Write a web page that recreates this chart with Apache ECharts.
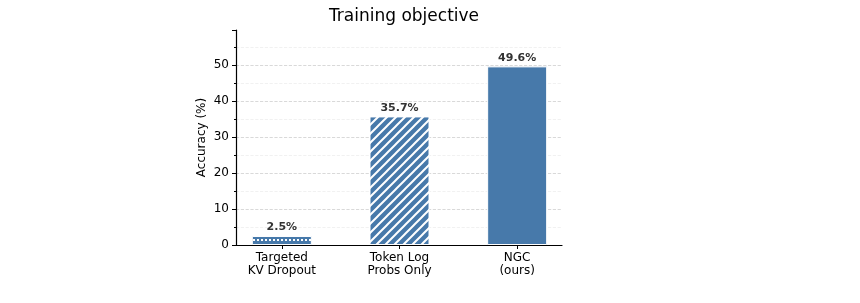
<!DOCTYPE html>
<html lang="en">
<head>
    <meta charset="UTF-8">
    <title>Training objective</title>
    <script src="https://cdn.jsdelivr.net/npm/echarts@6/dist/echarts.min.js"></script>
    <style>
        html, body { margin: 0; padding: 0; background: #fff; }
        #main { width: 860px; height: 303px; }
    </style>
</head>
<body>
<div id="main"></div>
<script>
    // data
    var categories = ['Targeted\nKV Dropout', 'Token Log\nProbs Only', 'NGC\n(ours)'];
    var accuracy = [2.5, 35.7, 49.6];
    var patterns = ['dots', 'stripes', 'solid'];

    var BLUE = '#4779aa';
    var YMAX = 59.7;

    // hatch fills drawn on small canvases
    function makeStripes() {
        var s = 9;
        var c = document.createElement('canvas');
        c.width = s; c.height = s;
        var g = c.getContext('2d');
        g.fillStyle = BLUE;
        g.fillRect(0, 0, s, s);
        g.strokeStyle = '#fff';
        g.lineWidth = 2;
        g.beginPath();
        // lines x + y = 0, s, 2s so the tile joins up
        g.moveTo(-3, 3); g.lineTo(3, -3);
        g.moveTo(-3, s + 3); g.lineTo(s + 3, -3);
        g.moveTo(s - 3, s + 3); g.lineTo(s + 3, s - 3);
        g.stroke();
        return c;
    }
    function makeDots() {
        var c = document.createElement('canvas');
        c.width = 4; c.height = 10;
        var g = c.getContext('2d');
        g.fillStyle = BLUE;
        g.fillRect(0, 0, 4, 10);
        g.fillStyle = '#fff';
        g.fillRect(1, 0, 2, 1);
        g.fillRect(1, 9, 2, 1);
        return c;
    }
    var fills = {
        solid: BLUE,
        stripes: { image: makeStripes(), repeat: 'repeat' },
        dots: { image: makeDots(), repeat: 'repeat' }
    };

    // grid line colours per tick (0..50, then the top end which stays blank)
    var gridColors = ['#cfcfcf', '#cfcfcf', '#cfcfcf', '#cfcfcf', '#cfcfcf', '#cfcfcf', 'rgba(0,0,0,0)'];

    var chart = echarts.init(document.getElementById('main'));
    var font = 'DejaVu Sans';

    chart.setOption({
        animation: false,
        textStyle: { fontFamily: font },
        title: {
            text: 'Training objective',
            left: 399, top: 3,
            textAlign: 'center',
            textStyle: { fontFamily: font, fontSize: 17, fontWeight: 'normal', color: '#000' }
        },
        grid: [
            { left: 236, width: 326, top: 30, height: 215 },
            { left: 223, width: 353, top: 30, height: 215 }
        ],
        xAxis: [
            {
                gridIndex: 0, type: 'value', min: 0, max: 1,
                axisLine: { show: true, lineStyle: { color: '#000', width: 1.2 } },
                axisTick: { show: false }, axisLabel: { show: false }, splitLine: { show: false }
            },
            {
                gridIndex: 1, type: 'category', data: categories,
                axisLine: { show: false },
                axisTick: { show: true, alignWithLabel: true, length: 4, lineStyle: { color: '#000' } },
                axisLabel: { color: '#000', fontSize: 12, lineHeight: 13, margin: 6, fontFamily: font }
            }
        ],
        yAxis: [
            {
                gridIndex: 0, type: 'value', min: 0, max: YMAX, interval: 10,
                name: 'Accuracy (%)', nameLocation: 'middle', nameGap: 28, nameRotate: 90,
                nameTextStyle: { color: '#000', fontSize: 12, fontFamily: font },
                axisLine: { show: true, lineStyle: { color: '#000', width: 1.2 } },
                axisTick: { show: true, length: 4, lineStyle: { color: '#000' } },
                minorTick: { show: true, splitNumber: 2, length: 2, lineStyle: { color: '#000' } },
                axisLabel: { color: '#000', fontSize: 12, margin: 7, showMaxLabel: false, fontFamily: font },
                splitLine: { show: true, lineStyle: { color: gridColors, type: 'dashed', width: 0.8 } },
                minorSplitLine: { show: true, lineStyle: { color: '#ededed', type: 'dashed', width: 0.8 } }
            },
            {
                gridIndex: 1, type: 'value', min: 0, max: YMAX, show: false
            }
        ],
        series: [{
            type: 'bar',
            xAxisIndex: 1, yAxisIndex: 1,
            barWidth: 60,
            data: accuracy.map(function (v, i) {
                return {
                    value: v,
                    itemStyle: { color: fills[patterns[i]], borderColor: '#fff', borderWidth: 1 }
                };
            }),
            label: {
                show: true, position: 'top', distance: 3,
                formatter: '{c}%',
                color: '#333', fontWeight: 'bold', fontSize: 11, fontFamily: font
            }
        }]
    });
</script>
</body>
</html>
